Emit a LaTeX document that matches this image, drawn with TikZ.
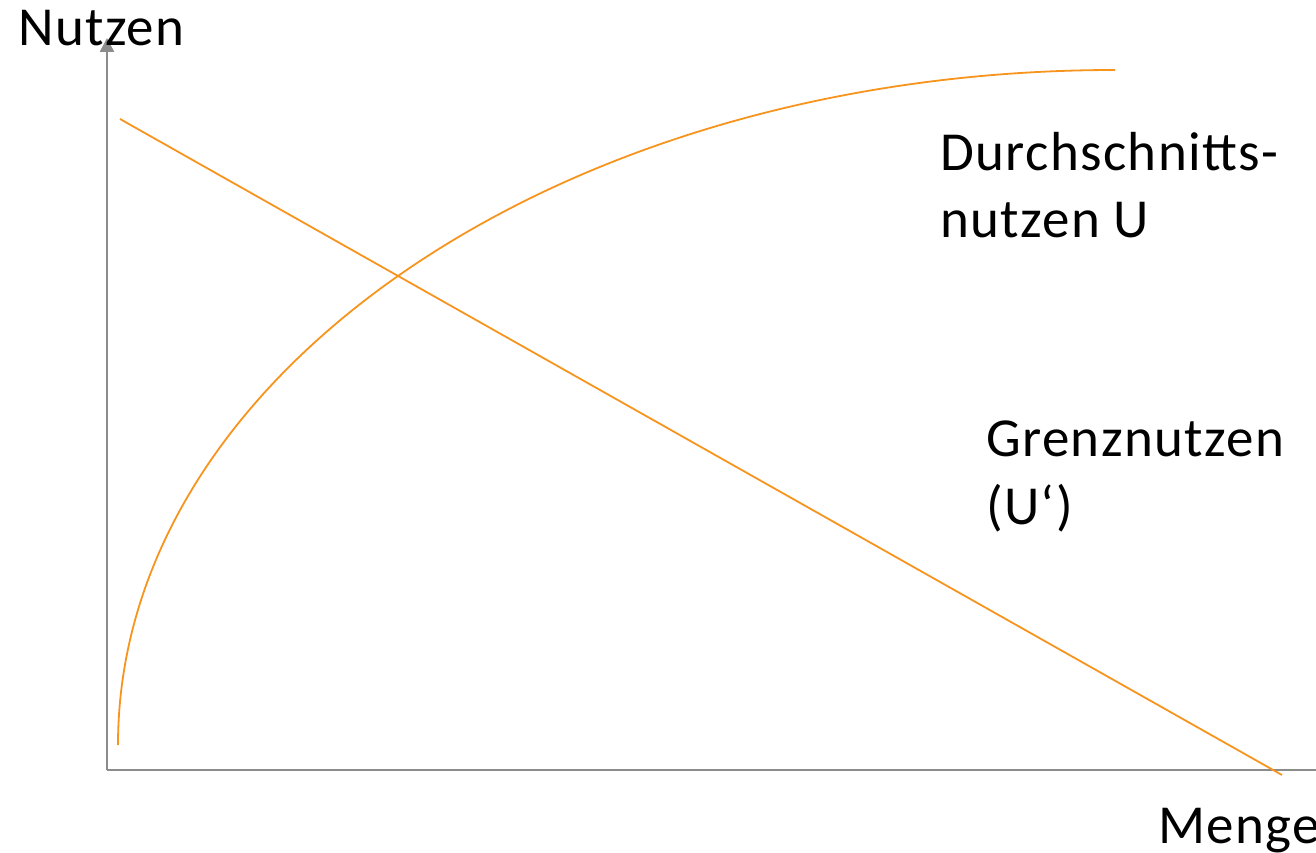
\documentclass[tikz,border=0pt]{standalone}
\usepackage{fontspec}
\setmainfont[LetterSpace=2.5]{Carlito}
\usetikzlibrary{arrows.meta}
\definecolor{kurve}{RGB}{247,148,30}
\definecolor{achse}{RGB}{140,140,140}
\tikzstyle{axis}=[draw=achse, line width=2.5pt]
\tikzstyle{curve}=[draw=kurve, line width=1.8pt]
\tikzstyle{lbl}=[anchor=base west, inner sep=0pt, font=\fontsize{55}{67}\selectfont, align=left]

\begin{document}
\begin{tikzpicture}[x=1pt,y=1pt]
        \useasboundingbox (0,0) rectangle (1316,852);
        \coordinate (O)  at (107,82);
        \coordinate (Yt) at (107,814);
        \coordinate (Xe) at (1316,82);
        \coordinate (G1) at (120,733);
        \coordinate (G2) at (1282,77);
        \coordinate (U0) at (118,107);
        %
        \draw[axis, -{Triangle[width=14pt,length=14pt]}] (O) -- (Yt);
        \draw[axis] (O) -- (Xe);
        \draw[curve] (G1) -- (G2);
        \draw[curve] (U0) arc[start angle=180, end angle=90, x radius=997pt, y radius=675pt];
        %
        \draw (18,806)   node[lbl](nutzen){Nutzen};
        \draw (1158,9)   node[lbl](menge){Menge};
        \draw (940,614)  node[lbl](durch){Durchschnitts-\\nutzen U};
        \draw (986,328)  node[lbl](grenz){Grenznutzen\\(U‘)};
\end{tikzpicture}
\end{document}
